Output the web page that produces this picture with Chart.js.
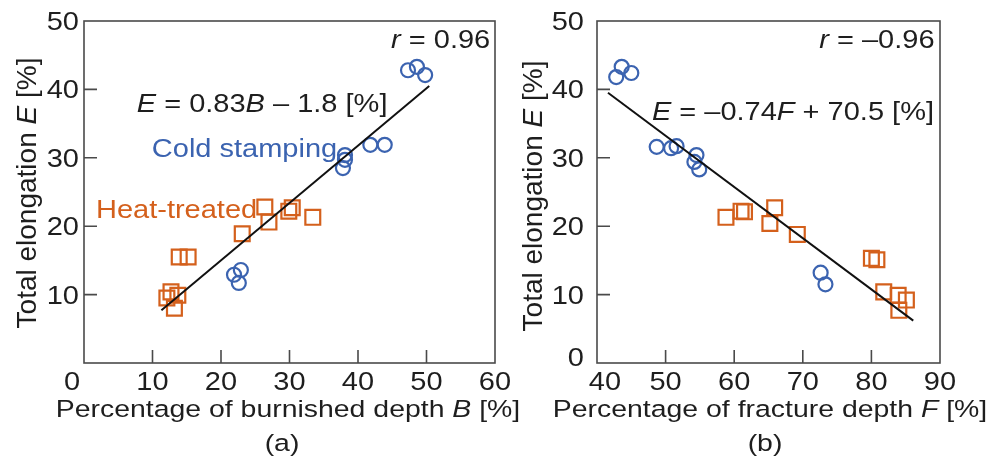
<!DOCTYPE html>
<html lang="en">
<head>
<meta charset="UTF-8">
<title>Total elongation vs burnished / fracture depth</title>
<script src="https://cdn.jsdelivr.net/npm/chart.js"></script>
<style>
    body { margin: 0; background: #ffffff; }
    .wrap { position: relative; width: 1005px; height: 456px; overflow: hidden; }
    .wrap canvas { position: absolute; top: 0; }
    #chartA { left: 0; }
    #chartB { left: 490px; }
</style>
</head>
<body>
<div class="wrap">
    <canvas id="chartA" width="520" height="456"></canvas>
    <canvas id="chartB" width="515" height="456"></canvas>
</div>
<script>
// (a) burnished depth B vs elongation E
const coldB  = [47.3, 48.6, 49.8, 41.8, 43.9, 38.1, 38.1, 37.8, 21.9, 22.9, 22.6];
const coldEa = [42.8, 43.3, 42.1, 31.9, 31.9, 30.4, 29.7, 28.5, 12.9, 13.6, 11.7];
const heatB  = [26.4, 29.9, 30.4, 33.4, 27.0, 23.1, 13.9, 15.2, 12.1, 12.7, 13.7, 13.2];
const heatEa = [22.8, 22.2, 22.7, 21.3, 20.6, 18.9, 15.5, 15.5, 9.5, 10.4, 9.9, 8.0];
const fitAx  = [11.3, 50.4];
const fitAy  = [7.7, 40.5];

// (b) fracture depth F vs elongation E
const coldF  = [42.8, 43.6, 45.0, 48.7, 50.8, 51.6, 54.5, 54.2, 54.9, 72.6, 73.3];
const coldEb = [41.8, 43.3, 42.4, 31.6, 31.4, 31.7, 30.4, 29.4, 28.3, 13.2, 11.5];
const heatF  = [58.8, 61.0, 61.5, 65.9, 65.2, 69.2, 80.0, 80.8, 81.8, 83.9, 85.1, 84.0];
const heatEb = [21.3, 22.2, 22.1, 22.7, 20.4, 18.8, 15.3, 15.1, 10.4, 9.9, 9.2, 7.7];
const fitBx  = [41.6, 86.1];
const fitBy  = [39.5, 6.2];

const ticksA_x = [0, 60];
const ticksB_x = [40, 90];
const ticksE   = [0, 50];

const BLUE = '#3b63b0';
const ORANGE = '#d4601c';
const INK = '#1e1e1e';
const FONT = '"Liberation Sans", Arial, sans-serif';
const STRETCH = 1.16;   // the source figure is a bit wider than tall

function pts(xs, ys) {
    return xs.map((x, i) => ({ x: x, y: ys[i] }));
}

// text with italic pieces; sx stretches it sideways
function drawRich(ctx, parts, x, y, align, size, color, rotate, sx) {
    const fontOf = p => (p.i ? 'italic ' : '') + size + 'px ' + FONT;
    let w = 0;
    parts.forEach(p => { ctx.font = fontOf(p); w += ctx.measureText(p.t).width; });
    ctx.save();
    ctx.translate(x, y);
    if (rotate) ctx.rotate(-Math.PI / 2);
    ctx.scale(sx || 1, 1);
    let cx = align === 'center' ? -w / 2 : (align === 'right' ? -w : 0);
    ctx.fillStyle = color;
    ctx.textAlign = 'left';
    ctx.textBaseline = 'alphabetic';
    parts.forEach(p => {
        ctx.font = fontOf(p);
        ctx.fillText(p.t, cx, 0);
        cx += ctx.measureText(p.t).width;
    });
    ctx.restore();
}

// box, inward ticks, tick labels, notes and axis titles
function makeDeco(cfg) {
    return {
        id: 'deco',
        afterDatasetsDraw(chart) {
            const ctx = chart.ctx, a = chart.chartArea;
            const xs = chart.scales.x, ys = chart.scales.y;
            ctx.save();
            ctx.strokeStyle = '#4a4a4a';
            ctx.lineWidth = 1.6;
            ctx.strokeRect(a.left, a.top, a.right - a.left, a.bottom - a.top);
            ctx.beginPath();
            xs.ticks.forEach(t => {
                if (t.value > xs.min && t.value < xs.max) {
                    const px = xs.getPixelForValue(t.value);
                    ctx.moveTo(px, a.bottom);
                    ctx.lineTo(px, a.bottom - 13);
                }
            });
            ys.ticks.forEach(t => {
                if (t.value > ys.min && t.value < ys.max) {
                    const py = ys.getPixelForValue(t.value);
                    ctx.moveTo(a.left, py);
                    ctx.lineTo(a.left + 13, py);
                }
            });
            ctx.stroke();
            ctx.restore();

            // tick labels
            xs.ticks.forEach(t => {
                if (cfg.corner && t.value === xs.min) return;
                let px = xs.getPixelForValue(t.value);
                if (t.value === xs.min) px += cfg.xMinShift;
                drawRich(ctx, [{ t: String(t.value) }], px, a.bottom + 27, 'center', 25, INK, false, STRETCH);
            });
            ys.ticks.forEach(t => {
                if (cfg.corner && t.value === ys.min) return;
                let py = ys.getPixelForValue(t.value) + 9;
                if (t.value === ys.min) py -= cfg.yMinLift;
                drawRich(ctx, [{ t: String(t.value) }], a.left - cfg.ypad, py, 'right', 25, INK, false, STRETCH);
            });
            if (cfg.corner) {
                drawRich(ctx, [{ t: '0' }], a.left - 12, a.bottom + 27, 'center', 25, INK, false, STRETCH);
            }

            cfg.notes.forEach(n => {
                drawRich(ctx, n.parts, xs.getPixelForValue(n.x), ys.getPixelForValue(n.y),
                    n.align, 25, n.color, false, STRETCH);
            });
            drawRich(ctx, cfg.xTitle, cfg.xTitlePos[0], cfg.xTitlePos[1], 'center', 24.5, INK, false, STRETCH);
            drawRich(ctx, [{ t: cfg.panel }], cfg.panelPos[0], cfg.panelPos[1], 'center', 24.5, INK, false, STRETCH);
            drawRich(ctx, cfg.yTitle, cfg.yTitlePos[0], cfg.yTitlePos[1], 'center', 28, INK, true, 1);
        }
    };
}

function makeChart(id, cold, heat, fit, xRange, box, deco) {
    return new Chart(document.getElementById(id), {
        type: 'scatter',
        data: {
            datasets: [
                {
                    label: 'Fit',
                    type: 'line',
                    data: fit,
                    borderColor: '#111',
                    borderWidth: 2,
                    pointRadius: 0,
                    fill: false
                },
                {
                    label: 'Cold stamping',
                    data: cold,
                    pointStyle: 'circle',
                    pointRadius: 7,
                    borderWidth: 2.2,
                    borderColor: BLUE,
                    backgroundColor: 'rgba(0,0,0,0)'
                },
                {
                    label: 'Heat-treated',
                    data: heat,
                    pointStyle: 'rect',
                    pointRadius: 10.5,
                    borderWidth: 2.2,
                    borderColor: ORANGE,
                    backgroundColor: 'rgba(0,0,0,0)'
                }
            ]
        },
        options: {
            responsive: false,
            animation: false,
            devicePixelRatio: 1,
            layout: { padding: { top: 21, right: box.right, left: 0, bottom: 0 } },
            plugins: { legend: { display: false }, tooltip: { enabled: false } },
            scales: {
                x: {
                    type: 'linear',
                    min: xRange[0],
                    max: xRange[1],
                    grid: { display: false, drawTicks: false },
                    border: { display: false },
                    ticks: { stepSize: 10, display: false, autoSkip: false },
                    afterFit: s => { s.height = 93; }
                },
                y: {
                    type: 'linear',
                    min: ticksE[0],
                    max: ticksE[1],
                    grid: { display: false, drawTicks: false },
                    border: { display: false },
                    ticks: { stepSize: 10, display: false, autoSkip: false },
                    afterFit: s => { s.width = box.left; }
                }
            }
        },
        plugins: [makeDeco(deco)]
    });
}

makeChart('chartA', pts(coldB, coldEa), pts(heatB, heatEa), pts(fitAx, fitAy), ticksA_x,
    { left: 84, right: 25 },
    {
        corner: true,
        ypad: 5,
        xMinShift: 0,
        yMinLift: 0,
        notes: [
            { x: 59.3, y: 46.1, align: 'right', color: INK, parts: [{ t: 'r', i: true }, { t: ' = 0.96' }] },
            { x: 7.7, y: 36.7, align: 'left', color: INK,
              parts: [{ t: 'E', i: true }, { t: ' = 0.83' }, { t: 'B', i: true }, { t: ' \u2013 1.8 [%]' }] },
            { x: 9.9, y: 30.1, align: 'left', color: BLUE, parts: [{ t: 'Cold stamping' }] },
            { x: 1.75, y: 21.2, align: 'left', color: ORANGE, parts: [{ t: 'Heat-treated' }] }
        ],
        xTitle: [{ t: 'Percentage of burnished depth ' }, { t: 'B', i: true }, { t: ' [%]' }],
        xTitlePos: [288, 417],
        panel: '(a)',
        panelPos: [282, 451],
        yTitle: [{ t: 'Total elongation ' }, { t: 'E', i: true }, { t: ' [%]' }],
        yTitlePos: [36, 193]
    });

makeChart('chartB', pts(coldF, coldEb), pts(heatF, heatEb), pts(fitBx, fitBy), ticksB_x,
    { left: 107, right: 65 },
    {
        corner: false,
        ypad: 13,
        xMinShift: 8,
        yMinLift: 6,
        notes: [
            { x: 89.2, y: 46.0, align: 'right', color: INK, parts: [{ t: 'r', i: true }, { t: ' = \u20130.96' }] },
            { x: 48.0, y: 35.5, align: 'left', color: INK,
              parts: [{ t: 'E', i: true }, { t: ' = \u20130.74' }, { t: 'F', i: true }, { t: ' + 70.5 [%]' }] }
        ],
        xTitle: [{ t: 'Percentage of fracture depth ' }, { t: 'F', i: true }, { t: ' [%]' }],
        xTitlePos: [280, 417],
        panel: '(b)',
        panelPos: [275, 451],
        yTitle: [{ t: 'Total elongation ' }, { t: 'E', i: true }, { t: ' [%]' }],
        yTitlePos: [52, 196]
    });
</script>
</body>
</html>
